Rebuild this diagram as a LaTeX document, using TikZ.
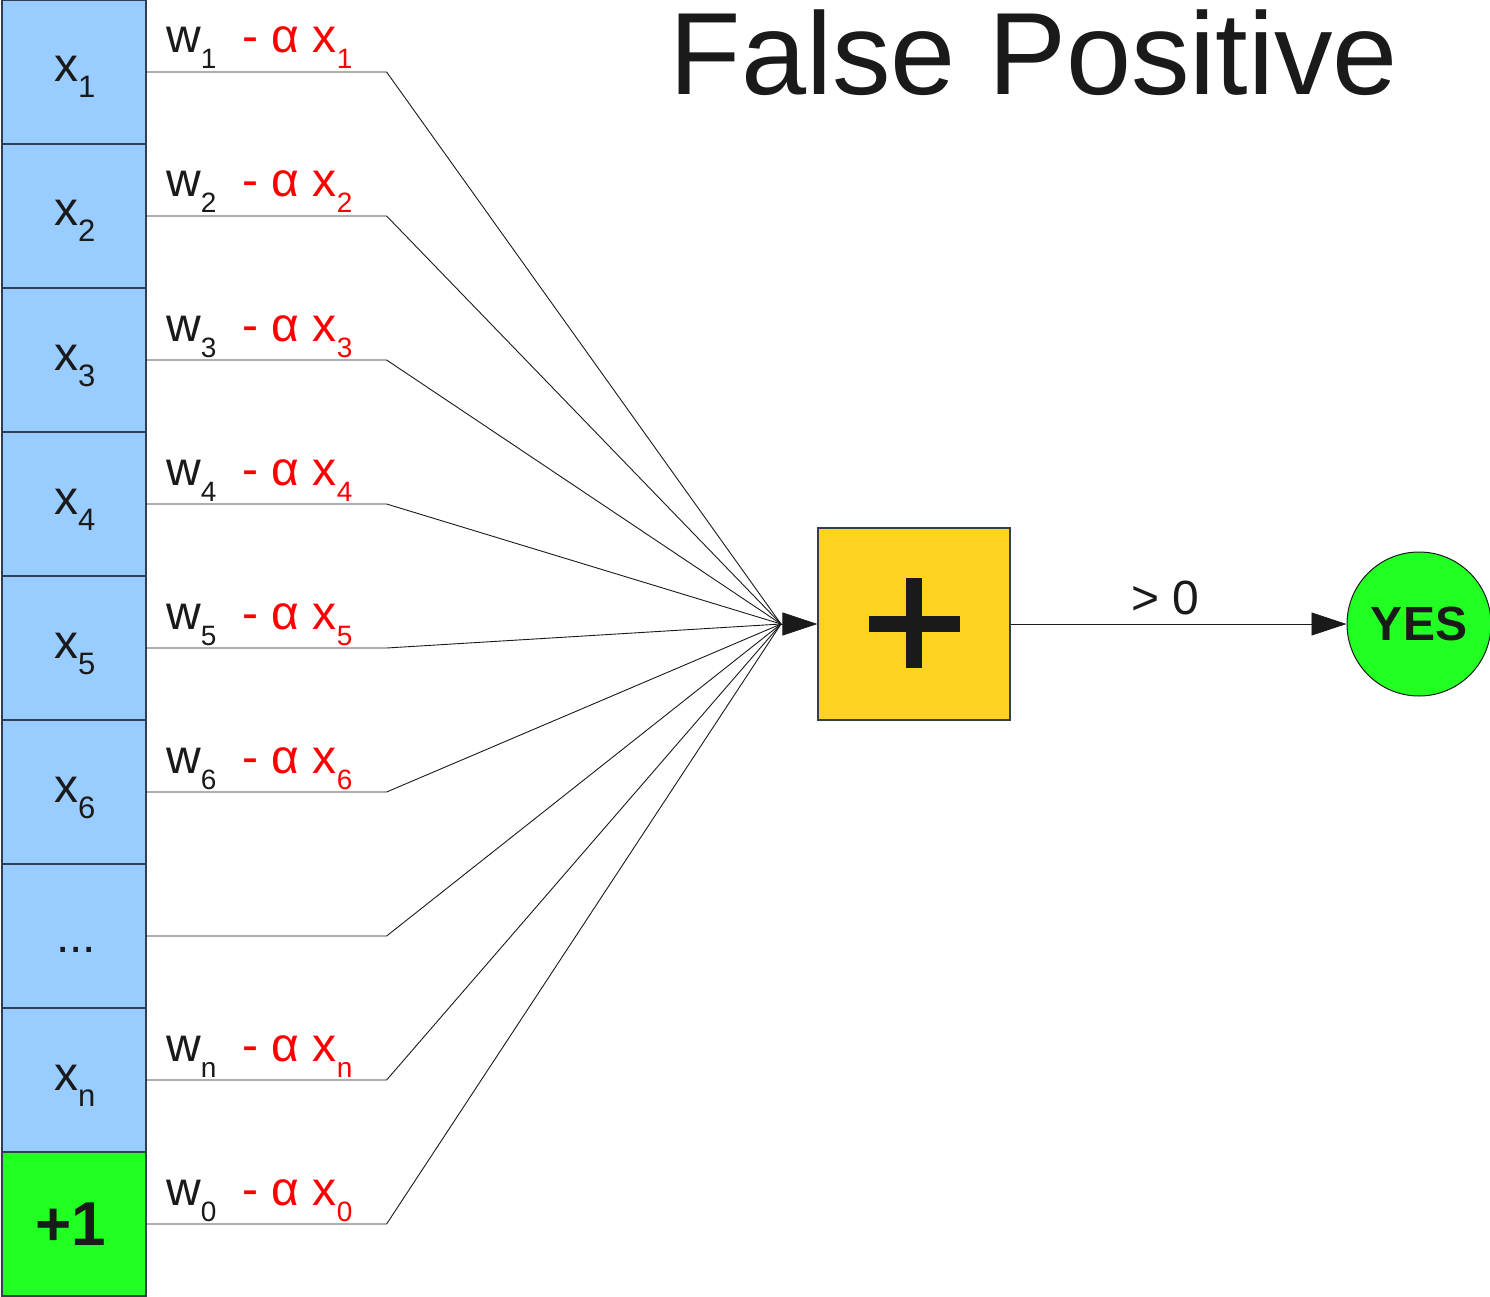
\documentclass[tikz,border=0pt]{standalone}
\usepackage{fontspec}
\setmainfont{Liberation Sans}
\usetikzlibrary{arrows.meta}
\definecolor{cellblue}{HTML}{99CCFF}
\definecolor{cellgreen}{HTML}{22FF22}
\definecolor{sumyellow}{HTML}{FFD320}
\definecolor{ink}{HTML}{1A1A1A}
\definecolor{edge}{HTML}{333F4F}
\newcommand\fs[1]{\fontsize{#1}{#1}\selectfont}
\tikzset{
  cell/.style={draw=edge, line width=1.2pt, fill=cellblue, minimum width=144pt, minimum height=144pt, inner sep=0pt},
  lbl/.style={anchor=base west, inner sep=0pt, text=ink, font=\fs{48}},
  wire/.style={draw=ink, line width=0.9pt},
  arr/.style={draw=ink, line width=0.9pt, -{Triangle[length=35pt,width=23pt]}},
}
\begin{document}
\begin{tikzpicture}[x=1pt,y=-1pt]
\useasboundingbox (0,0) rectangle (1490,1297);
\fill[white] (0,0) rectangle (1490,1297);
% cells
\foreach \i in {0,...,7}{
  \node[cell] (c\i) at (74,72+144*\i) {};
}
\node[cell, fill=cellgreen] (c8) at (74,72+144*8) {};
% cell labels
\foreach \i/\s in {0/1,1/2,2/3,3/4,4/5,5/6,7/n}{
  \node[lbl] (cx\i) at (54,82+144*\i) {x\raisebox{-16pt}{\fs{31}\s}};
}
\node[lbl] (cdots) at (56,952) {...};
\node[anchor=center, inner sep=0pt, text=ink, font=\fs{62}\bfseries] (cone) at (71,1224) {+1};
% convergence and sum
\coordinate (conv) at (781,624);
\node[draw=edge, line width=1.2pt, fill=sumyellow, minimum width=192pt, minimum height=192pt, inner sep=0pt] (sum) at (914,624) {};
\fill[ink] (869,616) rectangle (960,632);
\fill[ink] (906,578) rectangle (922,668);
% wires and weight labels
\foreach \i in {0,...,8}{
  \draw[wire] (c\i.east) -- ++(240,0) -- (conv);
}
\foreach \i/\s in {0/1,1/2,2/3,3/4,4/5,5/6,7/n,8/0}{
  \node[lbl] (w\i) at (166,53+144*\i) {w\raisebox{-16pt}{\fs{28}\s}\hspace{26pt}\textcolor{red}{- α x\raisebox{-16pt}{\fs{28}\s}}};
}
\draw[arr] (conv) -- (sum.west);
% output
\node[draw=ink, line width=1pt, fill=cellgreen, circle, minimum size=144pt, inner sep=0pt, text=ink, font=\fs{48}\bfseries] (yes) at (1419,624) {YES};
\draw[arr] (sum.east) -- (yes.west);
\node[lbl] (gt) at (1131,614) {> 0};
% title
\node[anchor=base, inner sep=0pt, text=ink, font=\fs{117}] (title) at (1034,95) {False Positive};
\end{tikzpicture}
\end{document}
